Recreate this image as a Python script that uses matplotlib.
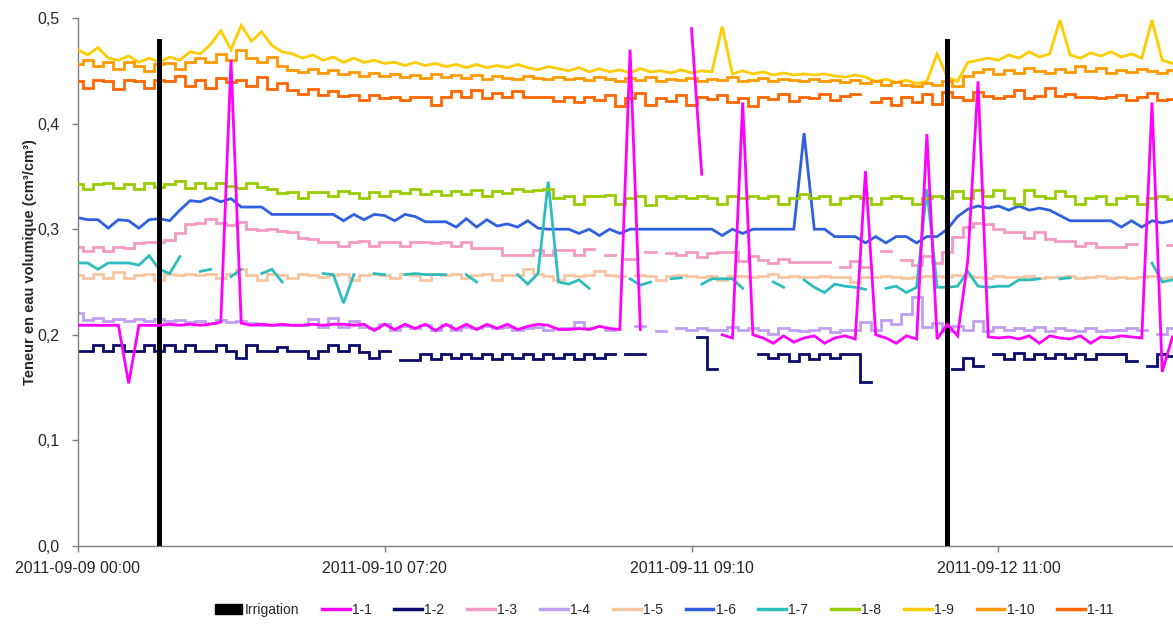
import numpy as np
import matplotlib
matplotlib.use("Agg")
import matplotlib.pyplot as plt
from matplotlib.patches import Patch
from matplotlib.lines import Line2D

nan = float("nan")

# ---- data -------------------------------------------------------------
tick_labels = ["2011-09-09 00:00", "2011-09-10 07:20",
               "2011-09-11 09:10", "2011-09-12 11:00"]
tick_step = 30                      # categories between labelled ticks

irrigation_pos = [8, 85]            # category index of the irrigation events
irrigation_val = [0.48, 0.48]

s1_1 = [0.209,0.209,0.209,0.209,0.209,0.154,0.209,0.209,0.209,0.210,0.209,0.210,
        0.209,0.210,0.212,0.460,0.211,0.209,0.210,0.209,0.210,0.209,0.209,0.210,
        0.209,0.210,0.210,0.209,0.210,0.204,0.210,0.205,0.210,0.206,0.210,0.204,
        0.210,0.205,0.210,0.205,0.210,0.206,0.210,0.205,0.208,0.210,0.209,0.205,
        0.205,0.206,0.205,0.208,0.206,0.205,0.470,0.205,nan,nan,nan,nan,
        0.490,0.352,nan,0.200,0.197,0.420,0.200,0.197,0.192,0.199,0.193,0.197,
        0.199,0.192,0.197,0.199,0.196,0.355,0.200,0.197,0.192,0.199,0.196,0.390,
        0.196,0.210,0.199,0.270,0.440,0.198,0.197,0.198,0.196,0.199,0.192,0.199,
        0.197,0.196,0.199,0.192,0.198,0.197,0.199,0.198,0.197,0.420,0.165,0.198]

s1_2 = [0.185,0.185,0.190,0.185,0.190,0.185,0.185,0.190,0.185,0.190,0.185,0.190,
        0.185,0.185,0.190,0.185,0.178,0.190,0.185,0.185,0.188,0.185,0.185,0.178,
        0.185,0.190,0.185,0.190,0.184,0.178,0.185,nan,0.176,0.176,0.182,0.177,
        0.182,0.178,0.182,0.178,0.182,0.177,0.182,0.178,0.182,0.177,0.182,0.178,
        0.182,0.177,0.182,0.178,0.182,nan,0.182,0.182,nan,nan,nan,nan,
        nan,0.198,0.168,nan,nan,nan,nan,0.182,0.178,0.182,0.175,0.182,
        0.177,0.182,0.178,0.182,0.182,0.155,nan,nan,nan,nan,nan,nan,
        nan,nan,0.168,0.178,0.170,nan,0.182,0.177,0.183,0.177,0.182,0.178,
        0.182,0.178,0.182,0.177,0.182,0.182,0.182,0.175,nan,0.170,0.182,0.180]

s1_3 = [0.283,0.279,0.283,0.279,0.283,0.282,0.287,0.288,0.288,0.290,0.296,0.305,
        0.306,0.310,0.306,0.304,0.307,0.300,0.299,0.300,0.298,0.297,0.292,0.291,
        0.288,0.288,0.284,0.288,0.289,0.284,0.288,0.288,0.284,0.288,0.288,0.287,
        0.288,0.284,0.288,0.282,0.282,0.282,0.276,0.276,0.276,0.280,0.276,0.280,
        0.280,0.276,0.281,nan,0.276,nan,0.272,nan,0.278,nan,0.277,0.276,
        0.278,0.274,0.277,0.278,0.278,0.270,0.275,0.271,0.268,0.272,0.269,0.269,
        0.269,0.269,nan,0.264,0.270,0.264,nan,0.279,nan,0.271,0.266,0.275,
        0.268,0.278,0.293,0.302,0.306,0.305,0.300,0.297,0.297,0.292,0.297,0.291,
        0.289,0.289,0.284,0.287,0.283,0.283,0.283,0.286,nan,nan,nan,0.285]

s1_4 = [0.221,0.214,0.216,0.213,0.215,0.213,0.215,0.213,0.215,0.213,0.214,0.212,
        0.213,0.211,0.214,0.212,0.213,0.211,0.209,0.209,0.209,0.209,0.209,0.215,
        0.207,0.216,0.207,0.213,0.207,0.206,0.210,0.205,0.208,0.206,0.209,0.205,
        0.209,0.205,0.207,0.206,0.208,0.206,0.207,0.205,0.206,0.207,0.205,0.206,
        0.206,0.212,0.206,nan,0.205,nan,nan,0.208,nan,0.204,nan,0.206,
        0.205,0.206,0.205,0.205,0.207,0.205,0.206,0.205,0.201,0.206,0.205,0.204,
        0.205,0.206,0.203,0.205,0.205,0.212,0.205,0.214,0.210,0.220,0.236,0.207,
        0.211,0.204,0.208,0.205,0.213,0.204,0.207,0.205,0.206,0.205,0.207,0.204,
        0.206,0.205,0.204,0.206,0.204,0.205,0.205,0.206,0.205,nan,0.201,0.206]

s1_5 = [0.257,0.254,0.258,0.254,0.259,0.254,0.257,0.258,0.252,0.258,0.257,0.258,
        0.257,0.258,0.254,0.258,0.262,0.257,0.252,0.258,0.257,0.254,0.258,0.257,
        0.255,0.257,0.258,0.252,0.257,0.258,0.257,0.254,0.258,0.257,0.252,0.258,
        0.257,0.258,0.254,0.257,0.258,0.252,0.257,0.257,0.262,0.258,0.256,0.252,
        0.257,0.256,0.257,0.260,0.257,0.256,nan,0.257,0.256,0.252,0.256,0.257,
        0.256,0.255,0.256,0.252,0.256,0.256,0.255,0.256,0.258,0.255,0.256,0.255,
        0.255,0.256,0.255,0.255,0.250,0.255,0.255,0.256,0.255,0.254,0.255,0.256,
        0.256,0.255,0.257,0.256,0.255,0.254,0.256,0.255,0.255,0.256,0.254,0.255,
        0.255,0.256,0.254,0.255,0.256,0.254,0.255,0.254,0.255,0.256,0.254,0.255]

s1_6 = [0.311,0.309,0.309,0.301,0.309,0.308,0.301,0.309,0.310,0.308,0.318,0.327,
        0.326,0.330,0.326,0.329,0.321,0.321,0.321,0.314,0.314,0.314,0.314,0.314,
        0.314,0.314,0.308,0.314,0.309,0.314,0.313,0.308,0.314,0.312,0.307,0.307,
        0.307,0.302,0.310,0.302,0.309,0.303,0.305,0.302,0.308,0.301,0.300,0.300,
        0.300,0.296,0.300,0.294,0.300,0.296,0.300,0.300,0.300,0.300,0.300,0.300,
        0.300,0.300,0.300,0.294,0.300,0.296,0.300,0.300,0.300,0.300,0.300,0.391,
        0.300,0.300,0.293,0.293,0.293,0.287,0.293,0.287,0.293,0.293,0.287,0.293,
        0.293,0.300,0.312,0.319,0.322,0.320,0.322,0.318,0.322,0.318,0.320,0.318,
        0.313,0.308,0.308,0.308,0.308,0.308,0.302,0.308,0.302,0.308,0.306,0.308]

s1_7 = [0.268,0.268,0.262,0.268,0.268,0.268,0.266,0.275,0.262,0.258,0.274,nan,
        0.260,0.262,nan,0.255,0.262,nan,0.258,0.262,0.250,nan,0.258,nan,
        0.258,0.257,0.230,0.257,nan,0.258,0.257,nan,0.257,0.258,0.257,0.257,
        0.257,nan,0.257,0.250,nan,0.257,nan,0.257,0.248,0.258,0.345,0.250,
        0.248,0.252,0.244,nan,0.251,nan,0.253,0.247,0.250,nan,0.253,0.254,
        nan,0.248,0.253,0.253,0.253,0.244,nan,nan,0.250,0.245,nan,0.252,
        0.245,0.240,0.248,0.246,0.245,0.243,nan,0.244,0.246,0.240,0.245,0.338,
        0.245,0.245,0.246,0.260,0.246,0.245,0.246,0.246,0.252,0.252,0.253,nan,
        0.253,0.254,nan,0.254,nan,0.252,nan,0.247,nan,0.268,0.250,0.252]

s1_8 = [0.343,0.338,0.343,0.344,0.339,0.343,0.338,0.344,0.340,0.343,0.346,0.339,
        0.344,0.339,0.344,0.341,0.339,0.344,0.340,0.338,0.334,0.335,0.330,0.335,
        0.335,0.331,0.336,0.334,0.330,0.335,0.331,0.336,0.334,0.338,0.333,0.336,
        0.332,0.336,0.333,0.337,0.331,0.336,0.334,0.338,0.336,0.337,0.338,0.330,
        0.331,0.324,0.331,0.331,0.332,0.324,0.330,0.331,0.323,0.331,0.330,0.331,
        0.330,0.331,0.330,0.324,0.331,0.330,0.331,0.330,0.331,0.324,0.330,0.333,
        0.330,0.331,0.324,0.330,0.331,0.330,0.324,0.330,0.331,0.330,0.324,0.330,
        0.331,0.330,0.336,0.330,0.337,0.331,0.337,0.330,0.324,0.337,0.331,0.330,
        0.336,0.331,0.324,0.330,0.331,0.324,0.330,0.331,0.324,0.330,0.331,0.329]

s1_9 = [0.470,0.465,0.472,0.462,0.460,0.464,0.458,0.462,0.458,0.463,0.460,0.468,
        0.466,0.475,0.488,0.470,0.493,0.478,0.487,0.474,0.468,0.466,0.462,0.465,
        0.460,0.463,0.458,0.462,0.458,0.460,0.457,0.458,0.455,0.458,0.455,0.457,
        0.454,0.456,0.453,0.456,0.453,0.455,0.453,0.456,0.453,0.451,0.454,0.452,
        0.450,0.453,0.449,0.452,0.449,0.451,0.448,0.452,0.449,0.450,0.448,0.451,
        0.448,0.450,0.449,0.492,0.447,0.450,0.447,0.449,0.446,0.448,0.446,0.447,
        0.446,0.447,0.445,0.444,0.446,0.444,0.440,0.442,0.439,0.441,0.438,0.440,
        0.466,0.444,0.440,0.458,0.460,0.462,0.460,0.465,0.462,0.468,0.463,0.466,
        0.498,0.465,0.462,0.467,0.464,0.468,0.463,0.466,0.462,0.498,0.460,0.457]

s1_10 = [0.456,0.460,0.455,0.458,0.452,0.458,0.455,0.450,0.456,0.457,0.452,0.458,
         0.462,0.458,0.466,0.460,0.470,0.462,0.458,0.463,0.455,0.451,0.449,0.452,
         0.448,0.451,0.447,0.449,0.445,0.448,0.445,0.447,0.444,0.446,0.443,0.447,
         0.444,0.446,0.443,0.446,0.442,0.445,0.443,0.442,0.445,0.443,0.442,0.444,
         0.442,0.443,0.441,0.444,0.442,0.440,0.443,0.441,0.444,0.440,0.442,0.441,
         0.443,0.440,0.442,0.441,0.444,0.440,0.441,0.443,0.440,0.442,0.441,0.440,
         0.442,0.440,0.441,0.439,0.441,0.438,0.440,0.437,0.439,0.437,0.436,0.438,
         0.437,0.440,0.436,0.445,0.449,0.452,0.447,0.451,0.448,0.453,0.450,0.448,
         0.452,0.449,0.455,0.450,0.453,0.448,0.451,0.449,0.452,0.450,0.448,0.451]

s1_11 = [0.440,0.434,0.441,0.440,0.433,0.441,0.440,0.434,0.441,0.440,0.445,0.436,
         0.441,0.434,0.443,0.439,0.441,0.436,0.444,0.433,0.438,0.432,0.428,0.433,
         0.427,0.431,0.426,0.427,0.422,0.427,0.424,0.425,0.422,0.425,0.425,0.418,
         0.425,0.431,0.425,0.432,0.424,0.429,0.425,0.431,0.425,0.425,0.425,0.421,
         0.425,0.420,0.425,0.422,0.427,0.417,0.424,0.429,0.418,0.424,0.421,0.427,
         0.418,0.425,0.423,0.427,0.420,0.424,0.417,0.425,0.423,0.428,0.421,0.425,
         0.424,0.428,0.422,0.426,0.428,nan,0.420,0.424,0.418,0.425,0.420,0.428,
         0.419,0.430,0.425,0.422,0.430,0.426,0.424,0.426,0.432,0.424,0.426,0.434,
         0.426,0.428,0.425,0.425,0.424,0.425,0.427,0.422,0.425,0.429,0.422,0.423]

series_names = ["1-1", "1-2", "1-3", "1-4", "1-5", "1-6",
                "1-7", "1-8", "1-9", "1-10", "1-11"]
series_values = [s1_1, s1_2, s1_3, s1_4, s1_5, s1_6,
                 s1_7, s1_8, s1_9, s1_10, s1_11]
series_colors = ["#FF00FF", "#0A0A6A", "#F49AC1", "#BE9FF0", "#F8C6A0",
                 "#2F60E2", "#2EBDBD", "#99CC00", "#FFCC00", "#FF9900",
                 "#FF6600"]
# series with isolated sensor spikes are drawn point-to-point, the rest stepwise
spiky = {"1-1", "1-6", "1-7", "1-9"}

# ---- figure -----------------------------------------------------------
plt.rcParams["font.family"] = ["Liberation Sans", "DejaVu Sans"]
W, H = 1173, 625
fig = plt.figure(figsize=(W / 100, H / 100), dpi=100)
left_px, right_px, top_px, bottom_px = 77.5, 1173, 18, 546
ax = fig.add_axes([left_px / W, 1 - bottom_px / H,
                   (right_px - left_px) / W, (bottom_px - top_px) / H])

n = len(s1_1)
x = np.arange(n)
for k, (name, vals, col) in enumerate(zip(series_names, series_values, series_colors)):
    z = 4.5 if name == "1-1" else 2 + 0.1 * k
    ds = "default" if name in spiky else "steps-mid"
    ax.plot(x, vals, color=col, lw=2.0, zorder=z, drawstyle=ds,
            solid_joinstyle="miter")

ax.bar(irrigation_pos, irrigation_val, width=0.5, color="black", zorder=4)

ax.set_xlim(0, (right_px - left_px) / (307 / tick_step))
ax.set_ylim(0, 0.5)

yt = [0.0, 0.1, 0.2, 0.3, 0.4, 0.5]
ax.set_yticks(yt)
ax.set_yticklabels([f"{v:.1f}".replace(".", ",") for v in yt])
ax.set_xticks([i * tick_step for i in range(len(tick_labels))])
ax.set_xticklabels(tick_labels)

for s in ("top", "right"):
    ax.spines[s].set_visible(False)
for s in ("left", "bottom"):
    ax.spines[s].set_color("#7f7f7f")
    ax.spines[s].set_linewidth(1.0)
ax.tick_params(axis="y", direction="out", length=4, width=1, color="#7f7f7f",
               labelsize=11.5, labelcolor="#262626", pad=9)
ax.tick_params(axis="x", direction="out", length=4, width=1, color="#7f7f7f",
               labelsize=11.5, labelcolor="#262626", pad=7)

fig.text(30 / W, 1 - 262 / H, "Teneur en eau volumique (cm³/cm³)",
         rotation=90, ha="center", va="center", fontsize=10.5,
         fontweight="bold", color="#262626")

handles = [Patch(facecolor="black", edgecolor="black")]
handles += [Line2D([0], [0], color=c, lw=2.5) for c in series_colors]
labels = ["Irrigation"] + series_names
fig.legend(handles, labels, loc="center", bbox_to_anchor=(664 / W, 1 - 610 / H),
           ncol=12, frameon=False, fontsize=10, handlelength=2.0,
           handleheight=0.8, handletextpad=0.15, columnspacing=1.65,
           labelcolor="#262626")

fig.savefig("out.png", dpi=100)
